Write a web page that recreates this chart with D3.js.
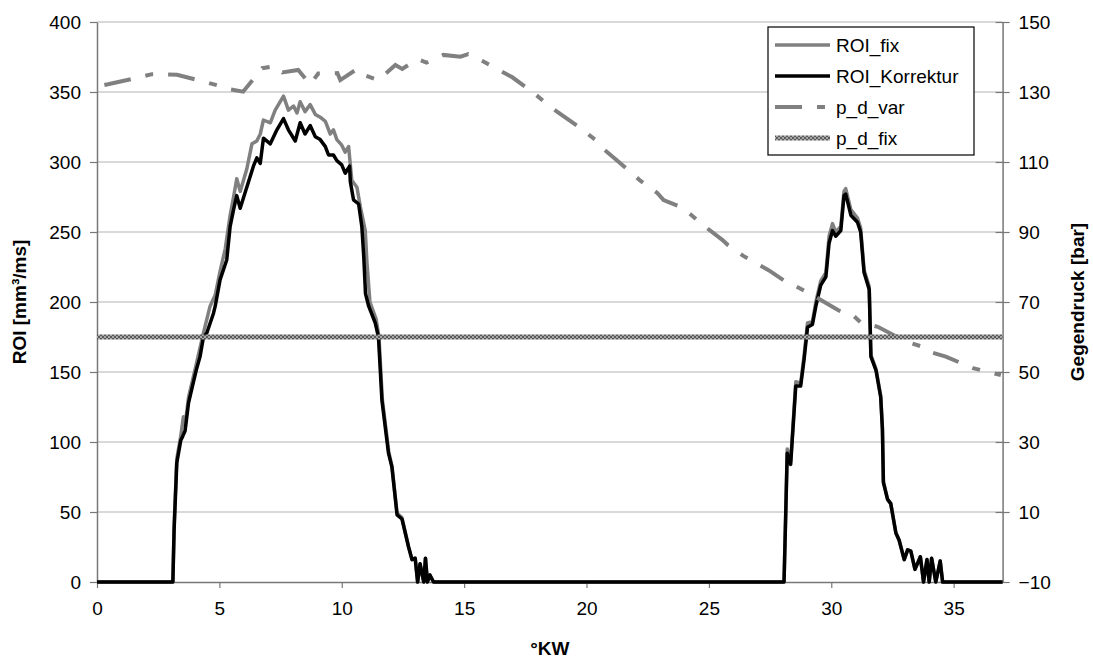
<!DOCTYPE html>
<html>
<head>
<meta charset="utf-8">
<script src="https://cdn.jsdelivr.net/npm/d3@7"></script>
<style>
  body { margin: 0; background: #fff; }
  svg text { font-family: "Liberation Sans", Arial, sans-serif; fill: #000; }
</style>
</head>
<body>
<div id="chart"></div>
<script>
// x in °KW, y in mm³/ms
const roiFix = [
  [0,0],[3.1,0],[3.15,40],[3.26,88],[3.42,104],[3.53,118],[3.6,112],[3.74,132],[4.05,155],
  [4.35,178],[4.62,197],[4.83,205],[5.03,222],[5.24,238],[5.44,262],[5.58,275],[5.71,288],
  [5.85,279],[6.12,295],[6.33,313],[6.53,315],[6.67,320],[6.8,330],[7.08,328],[7.28,337],
  [7.62,347],[7.82,337],[8.03,340],[8.17,335],[8.3,343],[8.5,336],[8.71,341],[8.92,334],
  [9.12,332],[9.33,329],[9.53,320],[9.66,323],[9.8,316],[10.0,312],[10.14,307],[10.28,311],
  [10.41,287],[10.62,282],[10.76,268],[10.96,251],[11.03,228],[11.15,200],[11.4,188],
  [11.52,175],[11.66,130],[11.92,93],[12.05,83],[12.26,49],[12.46,46],[12.73,25],[12.87,16],
  [13.0,17],[13.1,0],[13.2,13],[13.35,0],[13.42,17],[13.5,0],[13.6,5],[13.75,0],
  [28.07,0],[28.14,50],[28.2,95],[28.34,86],[28.55,143],[28.75,142],[28.89,162],[29.03,185],
  [29.23,186],[29.37,200],[29.57,215],[29.78,221],[29.91,247],[30.05,256],[30.18,250],
  [30.39,254],[30.52,279],[30.59,281],[30.8,266],[31.07,260],[31.2,253],[31.34,223],
  [31.55,211],[31.62,162],[31.83,152],[32.02,133],[32.09,110],[32.13,72],[32.3,59],
  [32.43,56],[32.64,35],[32.77,30],[32.98,16],[33.12,23],[33.25,22],[33.42,9],[33.64,18],
  [33.77,0],[33.91,16],[34.0,0],[34.1,17],[34.27,0],[34.45,15],[34.55,0],[37,0]
];

const roiKorrektur = [
  [0,0],[3.1,0],[3.15,37],[3.26,85],[3.42,101],[3.5,104],[3.6,108],[3.74,128],[4.05,151],
  [4.21,161],[4.35,175],[4.49,178],[4.76,192],[4.83,197],[5.03,216],[5.3,230],[5.44,254],
  [5.58,266],[5.71,276],[5.85,267],[6.12,282],[6.39,297],[6.53,303],[6.67,299],[6.8,317],
  [7.08,313],[7.35,323],[7.62,331],[7.82,323],[8.1,315],[8.3,328],[8.5,320],[8.71,326],
  [8.92,318],[9.12,316],[9.33,311],[9.46,305],[9.66,305],[9.8,301],[10.0,298],[10.14,292],
  [10.32,297],[10.35,286],[10.48,273],[10.69,270],[10.82,254],[10.9,232],[10.97,206],
  [11.1,197],[11.37,185],[11.5,175],[11.64,130],[11.91,92],[12.05,82],[12.26,48],[12.46,45],
  [12.73,25],[12.87,16],[13.0,17],[13.1,0],[13.2,13],[13.35,0],[13.42,17],[13.5,0],[13.6,5],
  [13.75,0],[28.07,0],[28.14,49],[28.2,92],[28.34,84],[28.55,140],[28.75,140],[28.89,159],
  [29.03,182],[29.23,184],[29.37,197],[29.57,212],[29.78,218],[29.91,242],[30.05,251],
  [30.18,247],[30.39,251],[30.52,276],[30.59,277],[30.8,262],[31.07,257],[31.2,250],
  [31.34,221],[31.55,209],[31.62,161],[31.83,151],[32.02,132],[32.09,109],[32.13,71],
  [32.3,59],[32.43,56],[32.64,35],[32.77,30],[32.98,16],[33.12,23],[33.25,22],[33.42,9],
  [33.64,18],[33.77,0],[33.91,16],[34.0,0],[34.1,17],[34.27,0],[34.45,15],[34.55,0],[37,0]
];

// x in °KW, y in bar (right axis)
const pdVar = [
  [0.3,132],[0.45,132.2],[1.55,133.9],[2.25,135.1],[2.5,135.1],[3.27,134.9],[4.34,133],
  [5.03,131.7],[5.32,130.9],[5.97,130.1],[6.75,136.8],[7.28,137.4],[7.57,135.6],[8.22,136.3],
  [8.71,132.2],[9.04,135.3],[9.82,135.4],[9.94,133.4],[10.63,136.6],[11.0,134.6],[11.49,133.4],
  [12.19,137.7],[12.47,136.6],[13.09,139.4],[13.46,138.4],[14.15,140.6],[14.85,140.1],
  [15.17,140.8],[15.79,138.7],[16.97,134.2],[17.5,131.5],[17.83,129.8],[18.53,125.7],
  [19.63,120.3],[20.37,116.3],[20.57,114.4],[21.19,110.8],[22.21,104.6],[22.9,101.1],
  [23.15,99.1],[23.93,96.9],[24.87,91.4],[25.56,87.7],[25.77,86.3],[26.42,83.1],[27.44,79.1],
  [28.14,75.8],[28.43,74.9],[29.16,72.3],[30.27,67.7],[30.92,66],[31.21,64.1],[31.9,62.9],
  [33.05,58.7],[33.74,57.2],[33.99,55.8],[34.68,54.4],[35.79,51.1],[36.93,49.1]
];

const pdFix = [[0,60],[37,60]];

const xTicks = [0,5,10,15,20,25,30,35];
const yLeftTicks = [0,50,100,150,200,250,300,350,400];
const yRightTicks = [-10,10,30,50,70,90,110,130,150];

const seriesNames = ["ROI_fix", "ROI_Korrektur", "p_d_var", "p_d_fix"];

const width = 1093, height = 660;
const margin = { top: 22, right: 91, bottom: 78, left: 97 };

const svg = d3.select("#chart").append("svg")
  .attr("width", width)
  .attr("height", height);

const defs = svg.append("defs");
const pat = defs.append("pattern")
  .attr("id", "hatch")
  .attr("patternUnits", "userSpaceOnUse")
  .attr("width", 4).attr("height", 4);
pat.append("rect").attr("width", 4).attr("height", 4).attr("fill", "#5a5a5a");
pat.append("rect").attr("x", 0).attr("y", 0).attr("width", 2).attr("height", 2).attr("fill", "#a8a8a8");
pat.append("rect").attr("x", 2).attr("y", 2).attr("width", 2).attr("height", 2).attr("fill", "#a8a8a8");

const x = d3.scaleLinear().domain([0, 37]).range([margin.left, width - margin.right + 0.6]);
const yL = d3.scaleLinear().domain([0, 400]).range([height - margin.bottom, margin.top]);
const yR = d3.scaleLinear().domain([-10, 150]).range([height - margin.bottom, margin.top]);

// gridlines
svg.append("g")
  .selectAll("line")
  .data(yLeftTicks.filter(d => d > 0))
  .join("line")
  .attr("x1", x(0)).attr("x2", x(37))
  .attr("y1", d => yL(d)).attr("y2", d => yL(d))
  .attr("stroke", "#cccccc")
  .attr("stroke-width", 1.5);

// axes
const xAxis = svg.append("g")
  .attr("transform", `translate(0,${yL(0)})`)
  .call(d3.axisBottom(x).tickValues(xTicks).tickSize(6).tickSizeOuter(0).tickPadding(8));
const yAxisL = svg.append("g")
  .attr("transform", `translate(${x(0)},0)`)
  .call(d3.axisLeft(yL).tickValues(yLeftTicks).tickSize(7).tickSizeOuter(0).tickPadding(9));
const yAxisR = svg.append("g")
  .attr("transform", `translate(${x(37)},0)`)
  .call(d3.axisRight(yR).tickValues(yRightTicks).tickSize(7).tickSizeOuter(0).tickPadding(9));

// right axis ticks cross the line
yAxisR.selectAll(".tick line").attr("x1", -7);

[xAxis, yAxisL, yAxisR].forEach(g => {
  g.select(".domain").attr("stroke", "#777").attr("stroke-width", 1.5);
  g.selectAll(".tick line").attr("stroke", "#777").attr("stroke-width", 1.2);
  g.selectAll(".tick text")
    .attr("fill", "#000")
    .style("font-family", "'Liberation Sans', Arial, sans-serif")
    .style("font-size", "19px");
});
xAxis.selectAll(".tick text").attr("dy", "1em");

const lineL = d3.line().x(d => x(d[0])).y(d => yL(d[1]));
const lineR = d3.line().x(d => x(d[0])).y(d => yR(d[1]));

svg.append("path")
  .datum(roiFix)
  .attr("fill", "none")
  .attr("stroke", "#808080")
  .attr("stroke-width", 3.5)
  .attr("stroke-linejoin", "round")
  .attr("d", lineL);

svg.append("path")
  .datum(roiKorrektur)
  .attr("fill", "none")
  .attr("stroke", "#000")
  .attr("stroke-width", 3.5)
  .attr("stroke-linejoin", "round")
  .attr("d", lineL);

svg.append("path")
  .datum(pdVar)
  .attr("fill", "none")
  .attr("stroke", "#808080")
  .attr("stroke-width", 4)
  .attr("stroke-dasharray", "27,15,8,15")
  .attr("d", lineR);

svg.append("path")
  .datum(pdFix)
  .attr("fill", "none")
  .attr("stroke", "url(#hatch)")
  .attr("stroke-width", 5)
  .attr("d", lineR);

// axis titles
svg.append("text")
  .attr("x", (x(0) + x(37)) / 2)
  .attr("y", 655)
  .attr("text-anchor", "middle")
  .style("font-size", "19px")
  .style("font-weight", "bold")
  .text("°KW");

svg.append("text")
  .attr("transform", `translate(26,${(yL(0) + yL(400)) / 2}) rotate(-90)`)
  .attr("text-anchor", "middle")
  .style("font-size", "19px")
  .style("font-weight", "bold")
  .text("ROI [mm³/ms]");

svg.append("text")
  .attr("transform", `translate(1084,${(yL(0) + yL(400)) / 2}) rotate(-90)`)
  .attr("text-anchor", "middle")
  .style("font-size", "19px")
  .style("font-weight", "bold")
  .text("Gegendruck [bar]");

// legend
const legend = svg.append("g").attr("transform", "translate(768,27)");
legend.append("rect")
  .attr("width", 206).attr("height", 128)
  .attr("fill", "#fff")
  .attr("stroke", "#000")
  .attr("stroke-width", 1.2);

const legendStyles = [
  { stroke: "#808080", width: 3.5, dash: null },
  { stroke: "#000", width: 3.5, dash: null },
  { stroke: "#808080", width: 4, dash: "27,15,8,15" },
  { stroke: "url(#hatch)", width: 5, dash: null }
];

seriesNames.forEach((name, i) => {
  const yy = 18 + i * 31;
  const st = legendStyles[i];
  legend.append("path")
    .attr("d", `M7,${yy}H62`)
    .attr("stroke", st.stroke)
    .attr("stroke-width", st.width)
    .attr("stroke-dasharray", st.dash);
  legend.append("text")
    .attr("x", 68)
    .attr("y", yy)
    .attr("dy", "0.35em")
    .style("font-size", "19px")
    .text(name);
});
</script>
</body>
</html>
